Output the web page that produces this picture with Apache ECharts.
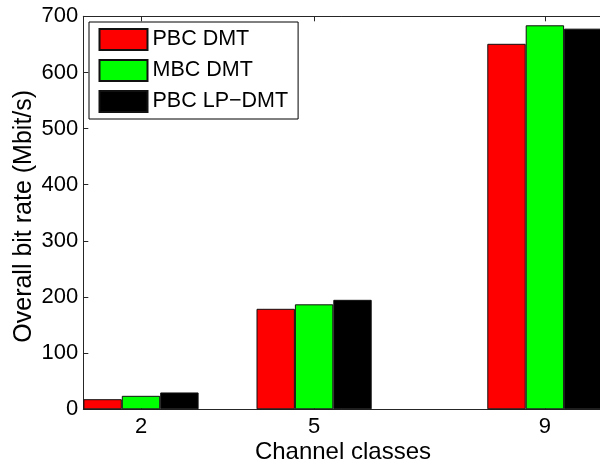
<!DOCTYPE html>
<html>
<head>
<meta charset="utf-8">
<script src="https://cdn.jsdelivr.net/npm/echarts@6/dist/echarts.min.js"></script>
<style>
html,body{margin:0;padding:0;background:#fff;}
#c{width:600px;height:466px;}
</style>
</head>
<body>
<div id="c"></div>
<script>
const classes = [2, 5, 9];
const seriesNames = ['PBC DMT', 'MBC DMT', 'PBC LP\u2212DMT'];
const pbcDmt = [18, 179, 651];
const mbcDmt = [24, 187, 684];
const pbcLpDmt = [30, 195, 678];
const yTicks = [0, 100, 200, 300, 400, 500, 600, 700];
const colors = ['#ff0000', '#00ff00', '#000000'];

const values = [pbcDmt, mbcDmt, pbcLpDmt];
const FONT = 'Liberation Sans, Arial, Helvetica, sans-serif';
const chart = echarts.init(document.getElementById('c'), null, {renderer: 'canvas'});
const axisLineStyle = {color: '#262626', width: 1};
chart.setOption({
  animation: false,
  backgroundColor: '#ffffff',
  textStyle: {fontFamily: FONT, color: '#000'},
  grid: {left: 83.3, top: 16.3, width: 519.3, height: 393, containLabel: false, outerBoundsMode: 'none'},
  legend: {
    orient: 'vertical',
    left: 89, top: 22,
    data: seriesNames,
    itemWidth: 48, itemHeight: 21, itemGap: 8,
    padding: [6, 10, 6, 9.5],
    borderColor: '#000', borderWidth: 1, backgroundColor: '#fff',
    textStyle: {fontFamily: FONT, fontSize: 21.5, color: '#000'},
    icon: 'rect'
  },
  xAxis: [{
    type: 'value', min: 1, max: 10, position: 'bottom',
    name: 'Channel classes', nameLocation: 'middle', nameGap: 31, nameMoveOverlap: false,
    nameTextStyle: {fontFamily: FONT, fontSize: 24, color: '#000'},
    axisLine: {show: true, lineStyle: axisLineStyle},
    axisTick: {show: true, inside: true, length: 5, customValues: classes, lineStyle: axisLineStyle},
    axisLabel: {show: true, customValues: classes, fontFamily: FONT, fontSize: 22, color: '#000', margin: 7},
    splitLine: {show: false}
  }, {
    type: 'value', min: 1, max: 10, position: 'top',
    axisLine: {show: true, onZero: false, lineStyle: axisLineStyle},
    axisTick: {show: true, inside: true, length: 5, customValues: classes, lineStyle: axisLineStyle},
    axisLabel: {show: false},
    splitLine: {show: false}
  }],
  yAxis: {
    type: 'value', min: 0, max: 700, interval: 100,
    name: 'Overall bit rate (Mbit/s)', nameLocation: 'middle', nameGap: 47, nameMoveOverlap: false,
    nameTextStyle: {fontFamily: FONT, fontSize: 25, color: '#000', padding: [0, 7, 0, 0]},
    axisLine: {show: true, lineStyle: axisLineStyle},
    axisTick: {show: true, inside: true, length: 5, customValues: yTicks, lineStyle: axisLineStyle},
    axisLabel: {fontFamily: FONT, fontSize: 22, color: '#000', margin: 5, customValues: yTicks},
    splitLine: {show: false}
  },
  series: seriesNames.map((n, i) => ({
    name: n, type: 'bar', xAxisIndex: 0,
    barWidth: 38.4, barGap: '0%',
    itemStyle: {color: colors[i], borderColor: '#111', borderWidth: 1},
    data: classes.map((c, j) => [c, values[i][j]])
  }))
});
</script>
</body>
</html>
